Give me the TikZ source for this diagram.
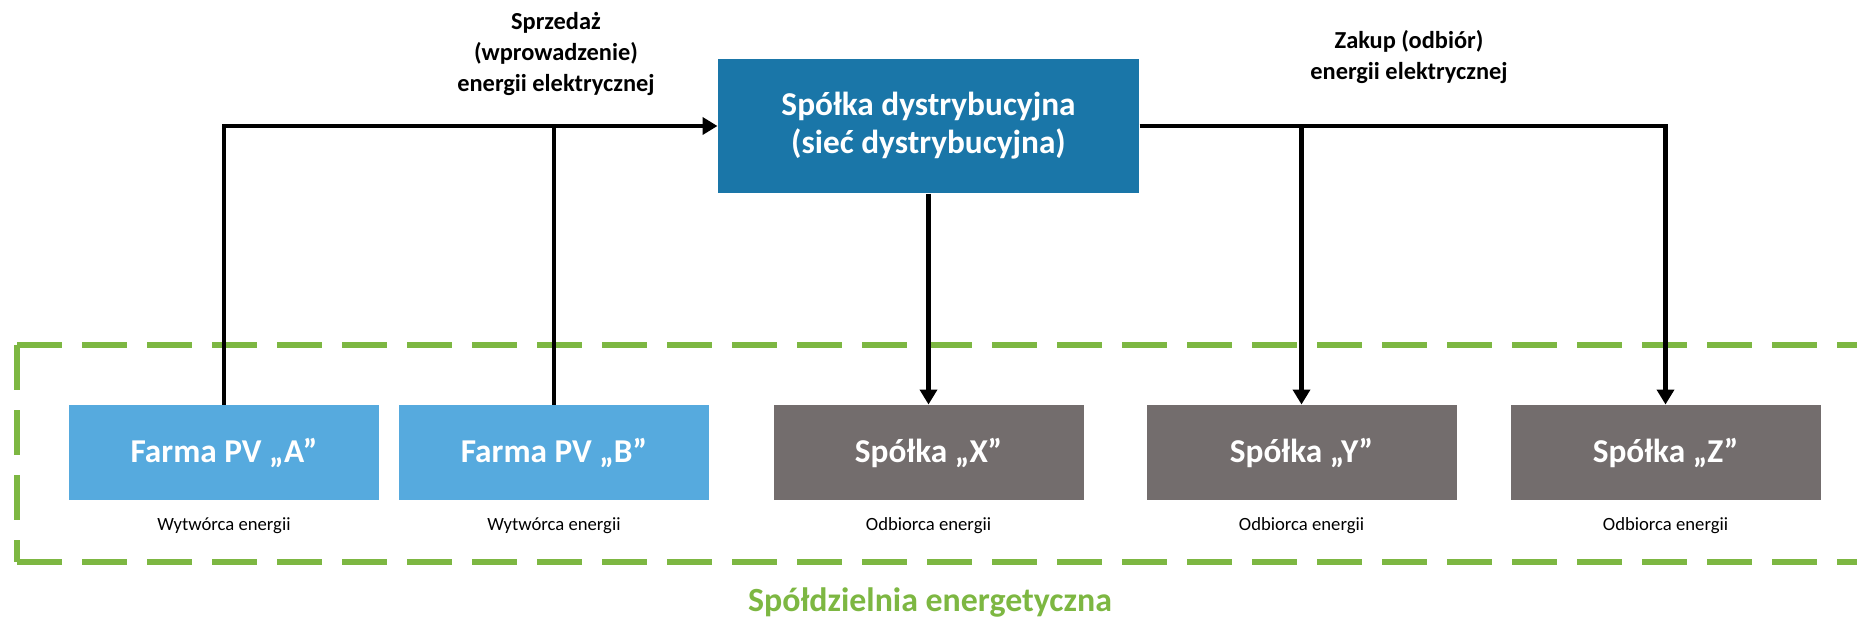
\documentclass[tikz,border=0pt]{standalone}
\usepackage{fontspec}
\setmainfont{Carlito}
\usetikzlibrary{arrows.meta}

\definecolor{dsoblue}{RGB}{26,118,168}
\definecolor{pvblue}{RGB}{86,170,222}
\definecolor{firmgray}{RGB}{115,109,109}
\definecolor{coopgreen}{RGB}{125,183,66}

\tikzset{every picture/.style={line width=0.75pt}}
\tikzset{
  boxtext/.style={font=\fontsize{25}{28.5}\selectfont\bfseries, text=white, align=center, inner sep=0pt},
  dsobox/.style={boxtext, fill=dsoblue, minimum width=315.75pt, minimum height=100.5pt},
  pvbox/.style={boxtext, fill=pvblue, minimum width=232.5pt, minimum height=71.25pt},
  firmbox/.style={boxtext, fill=firmgray, minimum width=232.5pt, minimum height=71.25pt},
  role/.style={font=\fontsize{14}{16.5}\selectfont, inner sep=0pt},
  flowlabel/.style={font=\fontsize{18.3}{23.6}\selectfont\bfseries, align=center, inner sep=0pt},
  flow/.style={line width=3.4pt, -{Triangle[width=12.75pt,length=11.25pt]}},
  link/.style={line width=3.4pt},
  coopline/.style={coopgreen, line width=4.2pt, dash pattern=on 33.75pt off 15pt},
}

\begin{document}
\begin{tikzpicture}[x=0.75pt,y=0.75pt,yscale=-1,xscale=1]
\useasboundingbox (0,0) rectangle (1857,619);

%Shape: Dashed frame (open on the right)
\begin{scope}
\clip (0,0) rectangle (1857,619);
\draw [coopline] (17,345) -- (1900,345);
\draw [coopline] (17,345) -- (17,562);
\draw [coopline] (17,562) -- (1900,562);
\end{scope}

%Shape: Distribution company
\node (dso) [dsobox] at (928.5,126) {Spółka dystrybucyjna\\(sieć dystrybucyjna)};

%Shape: Producers
\node (pva) [pvbox] at (224,452.5) {Farma PV „A”};
\node (pvb) [pvbox] at (554,452.5) {Farma PV „B”};
%Shape: Consumers
\node (spx) [firmbox] at (928.5,452.5) {Spółka „X”};
\node (spy) [firmbox] at (1301.5,452.5) {Spółka „Y”};
\node (spz) [firmbox] at (1665.5,452.5) {Spółka „Z”};

% Text Node
\node (pvarole) [role] at (224,526) {Wytwórca energii};
\node (pvbrole) [role] at (554,526) {Wytwórca energii};
\node (spxrole) [role] at (928.5,526) {Odbiorca energii};
\node (spyrole) [role] at (1301.5,526) {Odbiorca energii};
\node (spzrole) [role] at (1665.5,526) {Odbiorca energii};

% Text Node
\node (sale) [flowlabel] at (556,54) {Sprzedaż\\(wprowadzenie)\\energii elektrycznej};
\node (purchase) [flowlabel] at (1409,57) {Zakup (odbiór)\\energii elektrycznej};
\node (coop) [font=\fontsize{25.4}{30}\selectfont\bfseries, text=coopgreen, inner sep=0pt] at (930,602) {Spółdzielnia energetyczna};

%Straight Lines
\draw [flow] (pva.north) |- (dso.west);
\draw [link] (pvb.north) -- (pvb.north |- dso.west);
\draw [flow] (dso.south) -- (spx.north);
\draw [flow] (dso.east) -| (spz.north);
\draw [flow] (spy.north |- dso.east) -- (spy.north);

\end{tikzpicture}
\end{document}
